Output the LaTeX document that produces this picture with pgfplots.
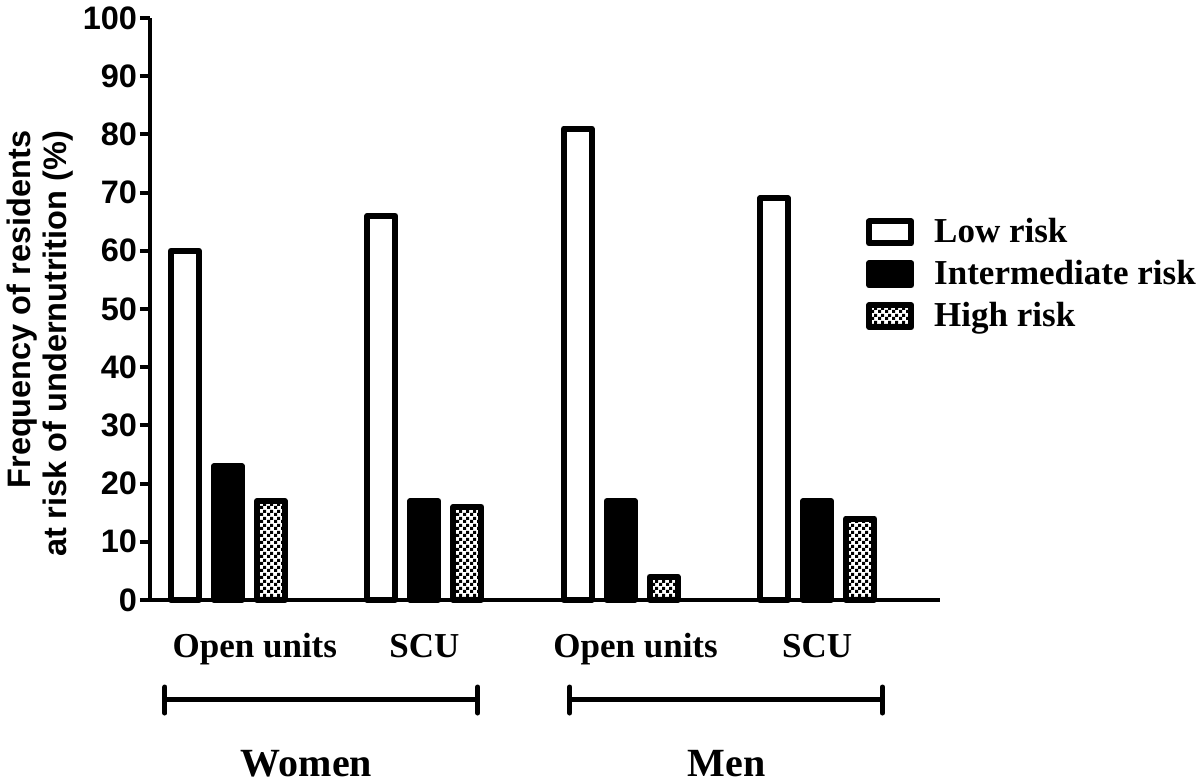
\documentclass[border=0pt]{standalone}
\usepackage{pgfplots}
\pgfplotsset{compat=1.18}
\usepackage{fontspec}
\setmainfont{Liberation Serif}
\newfontfamily\arial{Liberation Sans}
\usetikzlibrary{patterns}

% small black/white checker for the high-risk bars
\pgfdeclarepatternformonly{finechecker}{\pgfpointorigin}{\pgfqpoint{2.6pt}{2.6pt}}{\pgfqpoint{2.6pt}{2.6pt}}{%
  \pgfpathrectangle{\pgfpointorigin}{\pgfqpoint{1.3pt}{1.3pt}}%
  \pgfpathrectangle{\pgfqpoint{1.3pt}{1.3pt}}{\pgfqpoint{1.3pt}{1.3pt}}%
  \pgfusepath{fill}}

\begin{document}
\begin{tikzpicture}
\begin{axis}[
    at={(0,0)}, anchor=south west,
    scale only axis, width=316pt, height=232.8pt,
    xmin=0.603, xmax=4.626, ymin=0, ymax=100,
    axis x line*=bottom, axis y line*=left,
    axis line style={line width=1.6pt},
    every tick/.style={black, line width=1.6pt},
    tick align=outside, major tick length=4pt,
    ytick={0,10,...,100},
    xtick={1.137,2,3.076,4},
    xticklabels={Open units, SCU, Open units, SCU},
    xtick style={draw=none},
    /pgf/number format/assume math mode=true,
    yticklabel style={font=\arial\bfseries\fontsize{13}{15}\selectfont, inner sep=1pt},
    xticklabel style={font=\bfseries\fontsize{14}{16}\selectfont, anchor=base, yshift=-19.2pt},
    ylabel={Frequency of residents\\at risk of undernutrition (\%)},
    every axis y label/.style={at={(axis description cs:-0.139,0.44)}, rotate=90, anchor=center,
        font=\arial\bfseries\fontsize{13}{14.4}\selectfont, align=right},
    ybar, bar width=0.1425,
    clip=false,
    legend style={at={(axis description cs:0.906,0.665)}, anchor=north west,
        draw=none, fill=none, inner sep=0pt, row sep=1.5pt,
        font=\bfseries\fontsize{14}{16}\selectfont,
        /tikz/every odd column/.append style={column sep=6pt}},
    legend cell align=left,
    legend image code/.code={\draw[#1, line width=2.4pt, line join=round] (1.2pt,-4.4pt) rectangle (18pt,4.4pt);},
]
\addplot[draw=black, fill=white, line width=2.4pt, line join=round, bar shift=-0.219]
    coordinates {(1,60) (2,66) (3,81) (4,69)};
\addplot[draw=black, fill=black, line width=2.4pt, line join=round, bar shift=0]
    coordinates {(1,23) (2,17) (3,17) (4,17)};
\addplot[draw=black, pattern=finechecker, line width=2.4pt, line join=round, bar shift=0.219]
    coordinates {(1,17) (2,16) (3,4) (4,14)};
\legend{Low risk, Intermediate risk, High risk}

% group brackets
\draw[line width=2pt] (axis cs:0.679,-17.18) -- (axis cs:2.272,-17.18);
\draw[line width=2pt, line cap=round] (axis cs:0.679,-14.95) -- (axis cs:0.679,-19.42);
\draw[line width=2pt, line cap=round] (axis cs:2.272,-14.95) -- (axis cs:2.272,-19.42);
\draw[line width=2pt] (axis cs:2.74,-17.18) -- (axis cs:4.333,-17.18);
\draw[line width=2pt, line cap=round] (axis cs:2.74,-14.95) -- (axis cs:2.74,-19.42);
\draw[line width=2pt, line cap=round] (axis cs:4.333,-14.95) -- (axis cs:4.333,-19.42);
\node[font=\bfseries\fontsize{16}{18}\selectfont] at (axis cs:1.40,-28.18) {Women};
\node[font=\bfseries\fontsize{16}{18}\selectfont] at (axis cs:3.54,-28.18) {Men};
\end{axis}
\pgfresetboundingbox
\path[use as bounding box] (-60pt,-72.8pt) rectangle (420pt,240pt);
\end{tikzpicture}
\end{document}
